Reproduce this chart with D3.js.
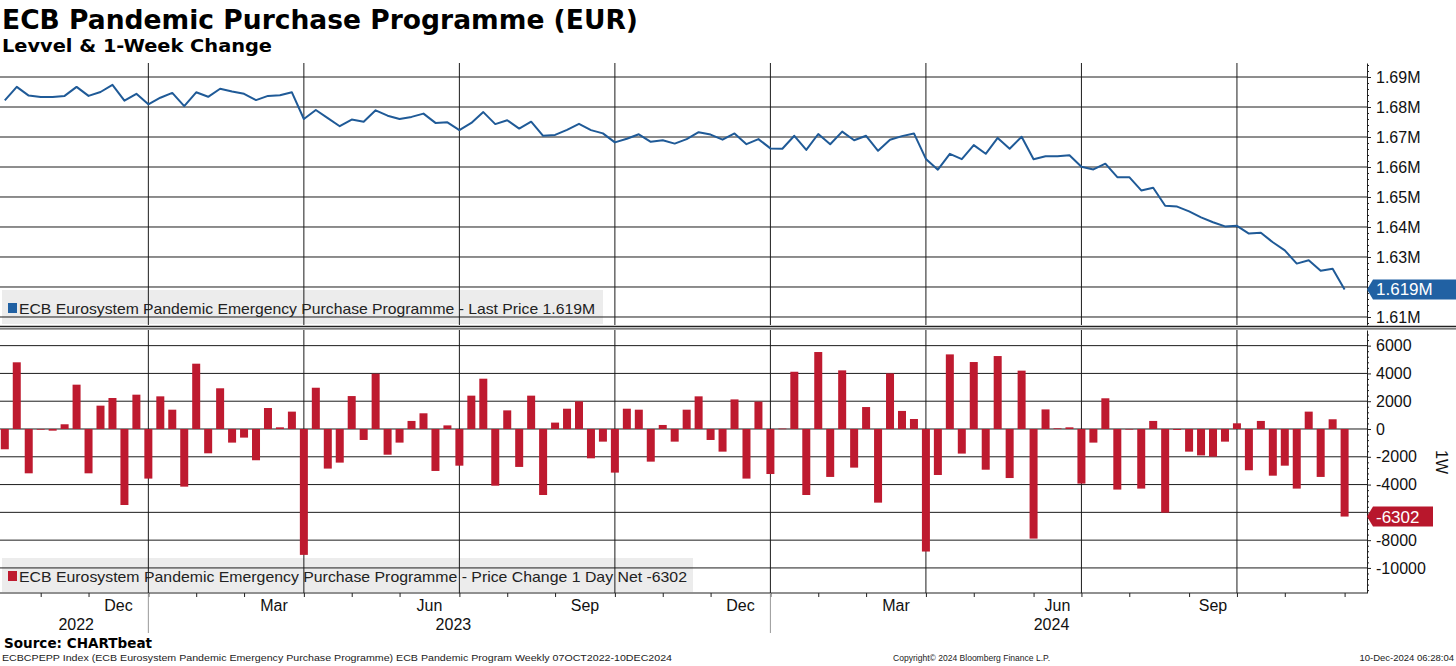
<!DOCTYPE html>
<html>
<head>
<meta charset="utf-8">
<script src="https://d3js.org/d3.v7.min.js"></script>
<style>
  html, body { margin: 0; padding: 0; background: #fff; }
  svg { display: block; font-family: "Liberation Sans", Arial, sans-serif; }
  .bold { font-family: "DejaVu Sans", Verdana, sans-serif; font-weight: bold; }
</style>
</head>
<body>
<svg id="chart" width="1456" height="666"></svg>
<script>
// weekly observations (Fridays), first one
var firstDate = "2022-10-07";

// level, EUR millions
var levels = [
  1.6822, 1.6867, 1.6838, 1.6833, 1.6833, 1.6837, 1.6867, 1.6837, 1.6850, 1.6874,
  1.6821, 1.6844, 1.6809, 1.6831, 1.6847, 1.6803, 1.6849, 1.6834, 1.6861, 1.6852,
  1.6844, 1.6823, 1.6837, 1.6839, 1.6849, 1.6760, 1.6790, 1.6763, 1.6736, 1.6758,
  1.6751, 1.6789, 1.6771, 1.6760, 1.6767, 1.6778, 1.6747, 1.6749, 1.6723, 1.6747,
  1.6783, 1.6743, 1.6756, 1.6728, 1.6751, 1.6704, 1.6707, 1.6724, 1.6744, 1.6723,
  1.6712, 1.6682, 1.6694, 1.6709, 1.6684, 1.6689, 1.6678, 1.6693, 1.6716, 1.6708,
  1.6691, 1.6712, 1.6676, 1.6693, 1.6662, 1.6661, 1.6704, 1.6657, 1.6710, 1.6676,
  1.6718, 1.6689, 1.6704, 1.6654, 1.6691, 1.6703, 1.6712, 1.6627, 1.6591, 1.6644,
  1.6626, 1.6673, 1.6644, 1.6697, 1.6661, 1.6701, 1.6626, 1.6636, 1.6636, 1.6639,
  1.6601, 1.6592, 1.6611, 1.6566, 1.6566, 1.6522, 1.6531, 1.6471, 1.6468, 1.6452,
  1.6432, 1.6416, 1.6402, 1.6404, 1.6378, 1.6381, 1.6349, 1.6322, 1.6278, 1.6289,
  1.6254, 1.6261, 1.6192
];

// 1-week change
var changes = [
  -1460, 4800, -3190, -50, -120, 340, 3190, -3190, 1680, 2230,
  -5470, 2470, -3570, 2350, 1390, -4150, 4700, -1750, 2930, -980,
  -620, -2250, 1510, 120, 1250, -9060, 2970, -2850, -2420, 2370,
  -790, 3980, -1850, -980, 580, 1130, -3020, 260, -2640, 2400,
  3620, -4080, 1340, -2730, 2400, -4750, 460, 1460, 1990, -2110,
  -910, -3140, 1460, 1390, -2350, 290, -910, 1390, 2350, -790,
  -1630, 2130, -3570, 1970, -3240, 30, 4120, -4750, 5540, -3450,
  4220, -2780, 1580, -5300, 4000, 1300, 720, -8820, -3310, 5370,
  -1770, 4820, -2930, 5250, -3530, 4200, -7890, 1410, 50, 120,
  -3930, -980, 2210, -4360, -20, -4290, 580, -6020, -70, -1630,
  -1900, -1990, -910, 410, -2970, 580, -3360, -2640, -4290, 1250,
  -3450, 700, -6302
];

var levelTicks = [1.61, 1.62, 1.63, 1.64, 1.65, 1.66, 1.67, 1.68, 1.69];
var changeTicks = [-10000, -8000, -6000, -4000, -2000, 0, 2000, 4000, 6000];
var monthNames = ["Jan","Feb","Mar","Apr","May","Jun","Jul","Aug","Sep","Oct","Nov","Dec"];

var lastLevel = "1.619M";
var lastChange = "-6302";

var svg = d3.select("#chart");
var axisX = 1367;
var topPane = { y0: 63, y1: 325 };
var botPane = { y0: 330, y1: 593 };

var parse = d3.timeParse("%Y-%m-%d");
var dates = levels.map(function (d, i) { return d3.timeWeek.offset(parse(firstDate), i); });
var n = dates.length;

var x = d3.scaleTime().domain([dates[0], dates[n - 1]]).range([4.8, 1344.6]);
var yTop = d3.scaleLinear().domain([1.60733, 1.69467]).range([topPane.y1, topPane.y0]);
var yBot = d3.scaleLinear().domain([-11804, 7125]).range([botPane.y1, botPane.y0]);

// month ends = last weekly point in each month
var monthEnds = [];
for (var i = 0; i < n; i++) {
  if (i === n - 1 || dates[i].getMonth() !== dates[i + 1].getMonth()) monthEnds.push(i);
}
var quarterEnds = monthEnds.filter(function (i) {
  return i < n - 1 && [11, 2, 5, 8].indexOf(dates[i].getMonth()) >= 0;
});
var yearEnds = monthEnds.filter(function (i) { return i < n - 1 && dates[i].getMonth() === 11; });

// legend boxes (behind the grid)
svg.append("rect").attr("x", 2).attr("y", 290).attr("width", 601).attr("height", 34).attr("fill", "#ececec");
svg.append("rect").attr("x", 2).attr("y", 558).attr("width", 691).attr("height", 34).attr("fill", "#ececec");

// horizontal grid
var grid = svg.append("g").attr("stroke", "#1c1c1c").attr("stroke-width", 1);
grid.selectAll(".ht").data(levelTicks).enter().append("line")
  .attr("x1", 0).attr("x2", axisX)
  .attr("y1", function (d) { return yTop(d); }).attr("y2", function (d) { return yTop(d); });
grid.selectAll(".hb").data(changeTicks).enter().append("line")
  .attr("x1", 0).attr("x2", axisX)
  .attr("y1", function (d) { return yBot(d); }).attr("y2", function (d) { return yBot(d); });

// vertical quarter grid
[topPane, botPane].forEach(function (p) {
  grid.selectAll(null).data(quarterEnds).enter().append("line")
    .attr("x1", function (i) { return x(dates[i]); }).attr("x2", function (i) { return x(dates[i]); })
    .attr("y1", p.y0).attr("y2", p.y1);
});

// bars
svg.append("g").selectAll("rect").data(changes).enter().append("rect")
  .attr("x", function (d, i) { return x(dates[i]) - 4; })
  .attr("width", 8)
  .attr("y", function (d) { return yBot(Math.max(0, d)); })
  .attr("height", function (d) { return Math.max(0.6, Math.abs(yBot(d) - yBot(0))); })
  .attr("fill", "#be1a2f");

// level line
var line = d3.line()
  .x(function (d, i) { return x(dates[i]); })
  .y(function (d) { return yTop(d); });
svg.append("path").datum(levels)
  .attr("d", line)
  .attr("fill", "none")
  .attr("stroke", "#1f5a97")
  .attr("stroke-width", 2)
  .attr("stroke-linejoin", "round");

// separator between panes
svg.append("line").attr("x1", 0).attr("x2", 1456).attr("y1", 326.5).attr("y2", 326.5).attr("stroke", "#222").attr("stroke-width", 1.3);
svg.append("line").attr("x1", 0).attr("x2", 1456).attr("y1", 328.8).attr("y2", 328.8).attr("stroke", "#555").attr("stroke-width", 1.3);

// right axes
function minorOf(ticks, step) {
  var out = [];
  for (var k = 0; k < ticks.length + 1; k++) {
    var base = ticks[0] + (k - 1) * step;
    for (var m = 1; m < 5; m++) out.push(base + m * step / 5);
  }
  return out;
}
// tick labels that sit under a last-value tag are hidden, as in the reference
function rightAxis(scale, ticks, fmt, step, tagY) {
  var g = svg.append("g").attr("transform", "translate(" + axisX + ",0)");
  var dom = scale.domain();
  g.call(d3.axisRight(scale).tickValues(minorOf(ticks, step).filter(function (v) {
    return v > dom[0] && v < dom[1];
  })).tickSize(2).tickSizeOuter(0).tickFormat(""));
  g.append("g").call(d3.axisRight(scale).tickValues(ticks).tickSize(4).tickPadding(5).tickFormat(fmt))
    .call(function (s) { s.select(".domain").remove(); });
  g.selectAll("path, line").attr("stroke", "#222");
  g.selectAll("text").attr("font-size", 16).attr("fill", "#111")
    .attr("font-family", "'Liberation Sans', Arial, sans-serif");
  g.selectAll(".tick").filter(function (d) { return Math.abs(scale(d) - tagY) < 16; })
    .select("text").remove();
  return g;
}
var tagTop = yTop(levels[n - 1]);
var tagBot = yBot(changes[n - 1]);
rightAxis(yTop, levelTicks, function (d) { return d.toFixed(2) + "M"; }, 0.01, tagTop);
rightAxis(yBot, changeTicks, function (d) { return String(d); }, 2000, tagBot);

svg.append("text").attr("transform", "translate(1436,462) rotate(90)")
  .attr("text-anchor", "middle").attr("font-size", 16).attr("fill", "#111").text("1W");

// last value tags
function tag(cy, right, color, label) {
  var pts = [[axisX, cy], [axisX + 6, cy - 10], [right, cy - 10], [right, cy + 10], [axisX + 6, cy + 10]];
  svg.append("path").attr("d", "M" + pts.join("L") + "Z").attr("fill", color);
  svg.append("text").attr("x", axisX + 9).attr("y", cy + 6).attr("font-size", 17)
    .attr("fill", "#fff").text(label);
}
tag(tagTop, 1456, "#2161a3", lastLevel);
tag(tagBot, 1433, "#b8172c", lastChange);

// bottom time axis
svg.append("line").attr("x1", 0).attr("x2", axisX).attr("y1", botPane.y1).attr("y2", botPane.y1)
  .attr("stroke", "#222").attr("stroke-width", 1.2);
var xg = svg.append("g").attr("transform", "translate(0," + botPane.y1 + ")")
  .call(d3.axisBottom(x).tickValues(monthEnds.map(function (i) { return dates[i]; })).tickSize(4).tickFormat(""));
xg.select(".domain").remove();
xg.selectAll("line").attr("stroke", "#222");

svg.selectAll(".yearsep").data(yearEnds).enter().append("line")
  .attr("x1", function (i) { return x(dates[i]); }).attr("x2", function (i) { return x(dates[i]); })
  .attr("y1", botPane.y1).attr("y2", 633).attr("stroke", "#999").attr("stroke-width", 1);

monthEnds.forEach(function (i, k) {
  var mo = dates[i].getMonth();
  if ([11, 2, 5, 8].indexOf(mo) < 0 || k === 0) return;
  var cx = (x(dates[monthEnds[k - 1]]) + x(dates[i])) / 2;
  svg.append("text").attr("x", cx).attr("y", 611).attr("text-anchor", "middle")
    .attr("font-size", 16).attr("fill", "#111").text(monthNames[mo]);
});

var yearEdges = [0].concat(yearEnds.map(function (i) { return x(dates[i]); }), [x(dates[n - 1])]);
for (var k = 0; k < yearEdges.length - 1; k++) {
  svg.append("text").attr("x", (yearEdges[k] + yearEdges[k + 1]) / 2 - (k ? 6 : -2)).attr("y", 630)
    .attr("text-anchor", "middle").attr("font-size", 16).attr("fill", "#111")
    .text(dates[0].getFullYear() + k);
}

// legends
svg.append("rect").attr("x", 8).attr("y", 303).attr("width", 9).attr("height", 10).attr("fill", "#2161a3");
svg.append("text").attr("x", 19).attr("y", 314).attr("font-size", 15).attr("fill", "#222")
  .attr("textLength", 576).attr("lengthAdjust", "spacingAndGlyphs")
  .text("ECB Eurosystem Pandemic Emergency Purchase Programme - Last Price " + lastLevel);
svg.append("rect").attr("x", 8).attr("y", 571).attr("width", 9).attr("height", 10).attr("fill", "#be1a2f");
svg.append("text").attr("x", 19).attr("y", 582).attr("font-size", 15).attr("fill", "#222")
  .attr("textLength", 668).attr("lengthAdjust", "spacingAndGlyphs")
  .text("ECB Eurosystem Pandemic Emergency Purchase Programme - Price Change 1 Day Net " + lastChange);

// titles
svg.append("text").attr("class", "bold").attr("x", 2).attr("y", 29).attr("font-size", 26.5)
  .attr("textLength", 636).attr("lengthAdjust", "spacingAndGlyphs").attr("fill", "#000")
  .text("ECB Pandemic Purchase Programme (EUR)");
svg.append("text").attr("class", "bold").attr("x", 2).attr("y", 52).attr("font-size", 18)
  .attr("textLength", 270).attr("lengthAdjust", "spacingAndGlyphs").attr("fill", "#000")
  .text("Levvel & 1-Week Change");
svg.append("text").attr("class", "bold").attr("x", 4).attr("y", 648).attr("font-size", 13.5)
  .attr("textLength", 148).attr("lengthAdjust", "spacingAndGlyphs").attr("fill", "#000")
  .text("Source: CHARTbeat");

// footer
var foot = svg.append("g").attr("font-size", 9.5).attr("fill", "#222");
foot.append("text").attr("x", 2).attr("y", 661).attr("textLength", 670).attr("lengthAdjust", "spacingAndGlyphs")
  .text("ECBCPEPP Index (ECB Eurosystem Pandemic Emergency Purchase Programme) ECB Pandemic Program  Weekly 07OCT2022-10DEC2024");
foot.append("text").attr("x", 893).attr("y", 661).attr("textLength", 157).attr("lengthAdjust", "spacingAndGlyphs")
  .text("Copyright\u00a9 2024 Bloomberg Finance L.P.");
foot.append("text").attr("x", 1454).attr("y", 661).attr("text-anchor", "end")
  .text("10-Dec-2024 06:28:04");
</script>
</body>
</html>
